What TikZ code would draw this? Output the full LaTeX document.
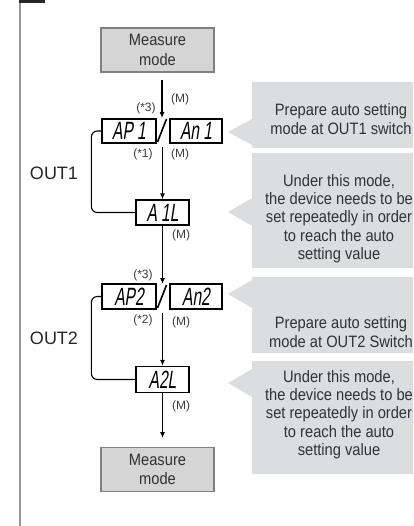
\documentclass[tikz,border=0pt]{standalone}
\usepackage{fontspec}
\setmainfont{Liberation Sans}
\newfontfamily\segfont[FakeSlant=0.15,FakeStretch=0.62]{Liberation Sans}
\newfontfamily\narrowfont[FakeStretch=0.89]{Liberation Sans}
\usetikzlibrary{arrows.meta}
\definecolor{callgray}{RGB}{220,221,222}
\definecolor{boxgray}{RGB}{213,213,213}
\definecolor{boxline}{RGB}{128,128,128}
\definecolor{txtgray}{RGB}{50,50,50}
\definecolor{lblgray}{RGB}{60,60,60}
\definecolor{framegray}{RGB}{150,150,150}
\begin{document}
\begin{tikzpicture}[x=1pt,y=-1pt,
  measbox/.style={draw=boxline,fill=boxgray,line width=1.2pt,minimum width=113pt,minimum height=44pt,inner sep=0pt,align=center,text=txtgray,font=\narrowfont\fontsize{16.5}{19.5}\selectfont},
  disp/.style={draw=black,fill=white,line width=1.3pt,minimum height=24pt,inner sep=0pt,font=\segfont\fontsize{25}{25}\selectfont},
  lbl/.style={text=lblgray,font=\fontsize{12}{13}\selectfont,inner sep=0pt},
  outlbl/.style={font=\fontsize{18}{20}\selectfont,text=black!85,inner sep=0pt},
  calltext/.style={align=center,text=txtgray,font=\narrowfont\fontsize{16.5}{18.25}\selectfont,inner sep=0pt},
  conn/.style={line width=1.1pt,draw=black},
  arr/.style={conn,-{Latex[length=6pt,width=5pt]}},
  slashline/.style={line width=1.6pt,draw=black},
]
\useasboundingbox (0,0) rectangle (413,526);
\clip (0,0) rectangle (413,526);

% frame
\draw[framegray,line width=1.3pt] (20,0) -- (20,526);
\fill[black!85] (19.35,0) rectangle (45,3);

% callouts
\fill[callgray] (252,82) -- (430,82) -- (430,148) -- (252,148) -- (252,145) -- (228,132) -- (252,119) -- cycle;
\fill[callgray] (252,153) -- (430,153) -- (430,268) -- (252,268) -- (252,226) -- (228,212) -- (252,198) -- cycle;
\fill[callgray] (252,277) -- (430,277) -- (430,353) -- (252,353) -- (252,308) -- (228,294) -- (252,280) -- cycle;
\fill[callgray] (252,361) -- (430,361) -- (430,474) -- (252,474) -- (252,397) -- (228,383) -- (252,369) -- cycle;

\node[calltext] (c1) at (341,119) {Prepare auto setting\\mode at OUT1 switch};
\node[calltext] (c2) at (339,218.5) {Under this mode,\\the device needs to be\\set repeatedly in order\\to reach the auto\\setting value};
\node[calltext] (c3) at (341,332) {Prepare auto setting\\mode at OUT2 Switch};
\node[calltext] (c4) at (339,414.5) {Under this mode,\\the device needs to be\\set repeatedly in order\\to reach the auto\\setting value};

% measure boxes
\node[measbox] (meas1) at (157.5,50) {Measure\\mode};
\node[measbox] (meas2) at (157.5,469.5) {Measure\\mode};

% displays
\node[disp,minimum width=54pt] (ap1) at (129,131) {AP 1};
\node[disp,minimum width=52pt] (an1) at (196,131) {An 1};
\node[disp,minimum width=53pt,minimum height=25pt] (a1l) at (162.5,212.5) {A 1L};
\node[disp,minimum width=54pt,minimum height=25pt] (ap2) at (129,296.5) {AP2};
\node[disp,minimum width=52pt,minimum height=25pt] (an2) at (196,296.5) {An2};
\node[disp,minimum width=53pt,minimum height=26pt] (a2l) at (162.5,379.5) {A2L};

% slashes
\coordinate (sl1a) at (157.5,142);
\coordinate (sl1b) at (166.5,119);
\coordinate (sl2a) at (157.5,308);
\coordinate (sl2b) at (166.5,285);
\draw[slashline] (sl1a) -- (sl1b);
\draw[slashline] (sl2a) -- (sl2b);

% arrows
\coordinate (top1) at (162,80);
\coordinate (tip1) at (162,118);
\coordinate (out1) at (162.5,147);
\coordinate (tip2) at (162.5,284);
\coordinate (out2) at (162.5,313);
\coordinate (tip3) at (162.5,438);
\draw[arr] (top1) -- (tip1);
\draw[arr] (out1) -- (a1l.north);
\draw[arr] (a1l.south) -- (tip2);
\draw[arr] (out2) -- (a2l.north);
\draw[arr] (a2l.south) -- (tip3);

% loops
\draw[conn,rounded corners=6pt] (ap1.west) -- ++(-10,0) |- (a1l.west);
\draw[conn,rounded corners=6pt] (ap2.west) -- ++(-10,0) |- (a2l.west);

% labels
\node[lbl] (m1) at (180,99) {(M)};
\node[lbl] (k3a) at (146,108.5) {(*3)};
\node[lbl] (k1) at (143,154) {(*1)};
\node[lbl] (m2) at (180,154) {(M)};
\node[lbl] (m3) at (181,235) {(M)};
\node[lbl] (k3b) at (143,275) {(*3)};
\node[lbl] (k2) at (143,320) {(*2)};
\node[lbl] (m4) at (181,322) {(M)};
\node[lbl] (m5) at (181,406) {(M)};

\node[outlbl] (o1) at (54,173) {OUT1};
\node[outlbl] (o2) at (54,338) {OUT2};
\end{tikzpicture}
\end{document}
